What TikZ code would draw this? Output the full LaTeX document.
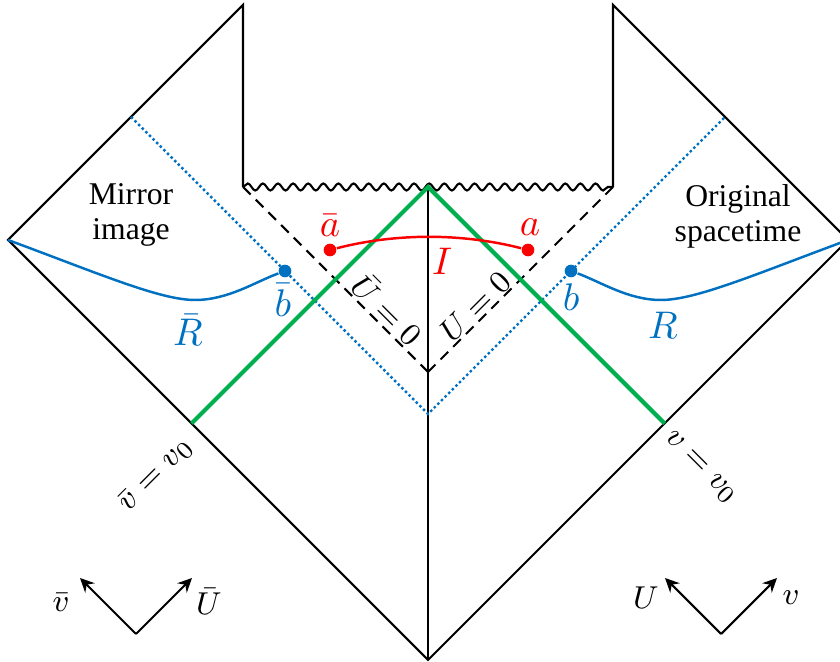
\documentclass[tikz,border=0pt]{standalone}
\usepackage{amsmath}
\usepackage{fontspec}
\setmainfont{Liberation Serif}
\usepackage{tikz}
\usetikzlibrary{arrows.meta,decorations.pathmorphing}
\definecolor{myblue}{RGB}{0,112,192}
\definecolor{mygreen}{RGB}{0,176,80}
\definecolor{myred}{RGB}{250,0,0}

\begin{document}
\begin{tikzpicture}[
    x=0.01cm, y=-0.01cm,
    font=\fontsize{9}{10}\selectfont,
    edge/.style={line width=0.6pt},
    horizon/.style={dash pattern=on 3.06pt off 2.04pt, line width=0.6pt},
    singular/.style={line width=0.6pt, decorate, decoration={snake, amplitude=1pt, segment length=4.3pt}},
    shock/.style={mygreen, line width=1.2pt},
    mirror/.style={myblue, line width=0.7pt, dash pattern=on 0.7pt off 0.75pt},
    world/.style={myblue, line width=0.7pt},
    island/.style={myred, line width=0.7pt},
    dot/.style={circle, inner sep=0pt, minimum size=3.6pt},
    lbl/.style={inner sep=1pt, font=\fontsize{9.5}{11}\selectfont},
    clbl/.style={inner sep=1pt, font=\fontsize{10.5}{12}\selectfont},
    axis/.style={-{Stealth[length=4pt,width=3.8pt]}, line width=0.6pt}
]
\useasboundingbox (0,0) rectangle (840,662);

% corners of the diagram
\coordinate (lc) at (8,240);
\coordinate (tl) at (243,5);
\coordinate (wl) at (243,187);
\coordinate (top) at (428,187);
\coordinate (wr) at (613,187);
\coordinate (tr) at (613,5);
\coordinate (rc) at (848,240);
\coordinate (bot) at (428,660);
\coordinate (mid) at (428,372);
\coordinate (low) at (428,414);
\coordinate (ml) at (131,117);
\coordinate (mr) at (725,117);
\coordinate (gl) at (191.5,423.5);
\coordinate (gr) at (664.5,423.5);

% boundary
\draw[edge] (wl) -- (tl) -- (lc) -- (bot) -- (rc) -- (tr) -- (wr);
\draw[singular] (wl) -- (wr);
\draw[edge] (top) -- (bot);
\draw[horizon] (wl) -- (mid);
\draw[horizon] (wr) -- (mid);
\draw[mirror] (ml) -- (low) -- (mr);
\draw[shock] (gl) -- (top) -- (gr);

% island and radiation regions
\node[dot, fill=myred] (abar) at (330,250) {};
\node[dot, fill=myred] (a) at (528,250) {};
\draw[island] (abar) .. controls +(66,-17) and +(-66,-17) .. (a);
\node[dot, fill=myblue] (bbar) at (285,271) {};
\node[dot, fill=myblue] (b) at (571,271) {};
\draw[world] (lc) .. controls (100,274) and (160,300) .. (195,300)
    .. controls (228,300) and (255,282) .. (bbar);
\draw[world] (b) .. controls (601,282) and (628,300) .. (661,300)
    .. controls (696,300) and (756,274) .. (rc);

% labels
\node[align=center, inner sep=1pt] (mirtxt) at (131,215) {Mirror\\image};
\node[align=center, inner sep=1pt] (orgtxt) at (738,216) {Original\\spacetime};
\node[clbl, myred] (abarl) at (330,226) {$\bar{a}$};
\node[clbl, myred] (al) at (530,227) {$a$};
\node[clbl, myred] (il) at (442,261) {$I$};
\node[clbl, myblue] (bbarl) at (283,300) {$\bar{b}$};
\node[clbl, myblue] (bl) at (571,297) {$b$};
\node[clbl, myblue] (rbarl) at (188,330) {$\bar{R}$};
\node[clbl, myblue] (rl) at (663,325) {$R$};
\node[lbl, rotate=-45] (ubarl) at (388,309) {$\bar{U}=0$};
\node[lbl, rotate=45] (ul) at (475,306) {$U=0$};
\node[lbl, rotate=45] (vbarl) at (156,475) {$\bar{v}=v_0$};
\node[lbl, rotate=-45] (vl) at (700,468) {$v=v_0$};

% directions
\coordinate (o1) at (136,634);
\coordinate (o1l) at (80,578);
\coordinate (o1r) at (192,578);
\draw[axis] (o1) -- (o1l);
\draw[axis] (o1) -- (o1r);
\node[lbl] (vbar) at (61,602) {$\bar{v}$};
\node[lbl] (ubar) at (209,601) {$\bar{U}$};
\coordinate (o2) at (721,634);
\coordinate (o2l) at (665,578);
\coordinate (o2r) at (777,578);
\draw[axis] (o2) -- (o2l);
\draw[axis] (o2) -- (o2r);
\node[lbl] (uu) at (646,598) {$U$};
\node[lbl] (vv) at (791,598) {$v$};
\end{tikzpicture}
\end{document}
